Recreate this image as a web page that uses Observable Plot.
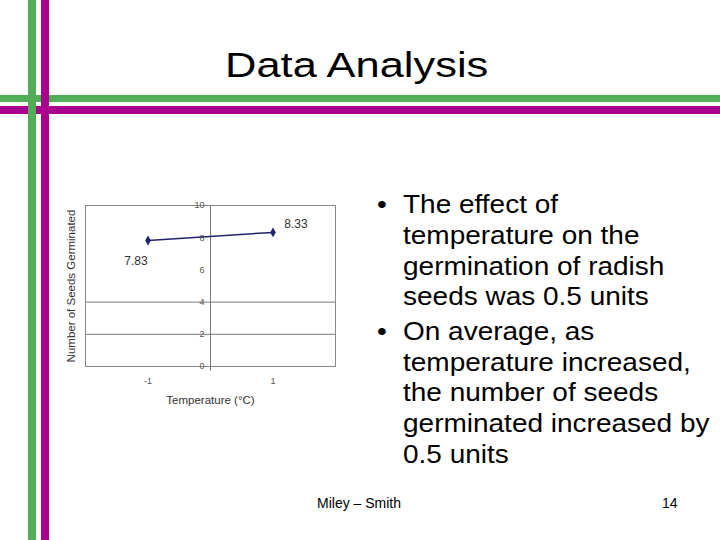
<!DOCTYPE html>
<html>
<head>
<meta charset="utf-8">
<script src="https://cdn.jsdelivr.net/npm/d3@7"></script>
<script src="https://cdn.jsdelivr.net/npm/@observablehq/plot@0.6"></script>
<style>
  html, body { margin: 0; padding: 0; background: #fff; }
  #slide { position: relative; width: 720px; height: 540px; overflow: hidden; background: #fff;
           font-family: "Liberation Sans", Arial, sans-serif; }
  .bar { position: absolute; }
  #chart { position: absolute; left: 60px; top: 180px; }
  #deco { position: absolute; left: 0; top: 0; }
</style>
</head>
<body>
<div id="slide">
  <div class="bar" style="left:0;top:95px;width:720px;height:7px;background:#52ae56;"></div>
  <div class="bar" style="left:0;top:106px;width:720px;height:8px;background:#a8008c;"></div>
  <div class="bar" style="left:28px;top:0;width:8px;height:540px;background:#52ae56;"></div>
  <div class="bar" style="left:41px;top:0;width:8px;height:540px;background:#a8008c;"></div>
  <svg id="deco" width="720" height="540"></svg>
  <div id="chart"></div>
</div>
<script>
// ---- chart data ----
const temperatures = [-1, 1];
const seedsGerminated = [7.83, 8.33];
const pointLabels = ["7.83", "8.33"];
const yTickValues = [0, 2, 4, 6, 8, 10];
const yGridValues = [2, 4];
const xTickValues = [-1, 1];
const xTickLabels = ["-1", "1"];
const xTitle = "Temperature (°C)";
const yTitle = "Number of Seeds Germinated";

// ---- slide text ----
const slideTitle = "Data Analysis";
const bullets = [
  ["The effect of", "temperature on the", "germination of radish", "seeds was 0.5 units"],
  ["On average, as", "temperature increased,", "the number of seeds", "germinated increased by", "0.5 units"]
];
const footerLeft = "Miley – Smith";
const footerRight = "14";

const data = temperatures.map((t, i) => ({t, v: seedsGerminated[i], label: pointLabels[i]}));
const font = "'Liberation Sans', Arial, sans-serif";

const chart = Plot.plot({
  width: 300,
  height: 240,
  marginLeft: 25,
  marginRight: 25,
  marginTop: 25,
  marginBottom: 54,
  style: {fontFamily: font, background: "transparent", overflow: "visible"},
  x: {domain: [-2, 2], axis: null},
  y: {domain: [0, 10], axis: null},
  marks: [
    Plot.ruleY(yGridValues, {stroke: "#7a7a7a", strokeWidth: 1, strokeOpacity: 1}),
    Plot.frame({stroke: "#8a8a8a", strokeWidth: 1}),
    Plot.ruleX([0], {y1: -0.3, y2: 10, stroke: "#7a7a7a", strokeWidth: 1}),
    Plot.text(yTickValues, {x: 0, y: d => d, text: d => String(d), dx: -6, textAnchor: "end",
      fontSize: 9, fill: "#555"}),
    Plot.text(xTickValues, {x: d => d, y: 0, text: (d, i) => xTickLabels[i], dy: 15,
      fontSize: 9, fill: "#555"}),
    Plot.line(data, {x: "t", y: "v", stroke: "#23236b", strokeWidth: 1.5}),
    Plot.dot(data, {x: "t", y: "v", symbol: "diamond", r: 3, fill: "#23236b", stroke: "none"}),
    Plot.text(data.slice(0, 1), {x: "t", y: "v", text: "label", dx: -12, dy: 21, fontSize: 12, fill: "#333"}),
    Plot.text(data.slice(1, 2), {x: "t", y: "v", text: "label", dx: 23, dy: -8, fontSize: 12, fill: "#333"}),
    Plot.text([xTitle], {x: 0, y: 0, text: d => d, dy: 34, fontSize: 11.5, fill: "#333"}),
    Plot.text([yTitle], {x: -2, y: 5, text: d => d, dx: -14, rotate: -90, fontSize: 11.5, fill: "#333"})
  ]
});
document.getElementById("chart").appendChild(chart);

// ---- slide text drawn as SVG text ----
const deco = d3.select("#deco").style("font-family", font);
deco.append("text")
  .attr("transform", "translate(225,77) scale(1.26,1)")
  .attr("font-size", 34.5)
  .attr("fill", "#000")
  .text(slideTitle);

const baselines = [[213, 243.8, 274.6, 305.4], [339.7, 370.5, 401.3, 432.1, 462.9]];
bullets.forEach((lines, bi) => {
  deco.append("text")
    .attr("transform", `translate(377,${baselines[bi][0]}) scale(1.12,1)`)
    .attr("font-size", 25)
    .text("•");
  lines.forEach((ln, li) => {
    deco.append("text")
      .attr("transform", `translate(403,${baselines[bi][li]}) scale(1.12,1)`)
      .attr("font-size", 25)
      .attr("fill", "#000")
      .text(ln);
  });
});
deco.append("text").attr("x", 317).attr("y", 508).attr("font-size", 14).text(footerLeft);
deco.append("text").attr("x", 662).attr("y", 508).attr("font-size", 14).text(footerRight);
</script>
</body>
</html>
